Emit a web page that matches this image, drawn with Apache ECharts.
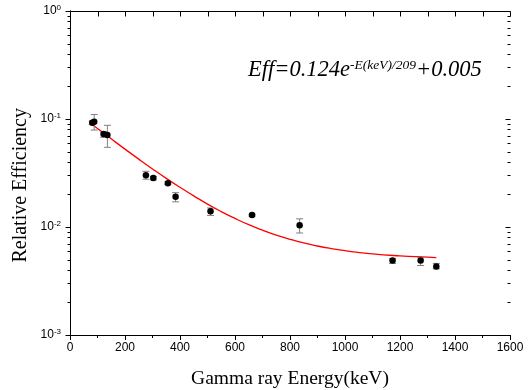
<!DOCTYPE html>
<html>
<head>
<meta charset="utf-8">
<script src="https://cdn.jsdelivr.net/npm/echarts@6/dist/echarts.min.js"></script>
<style>
html,body{margin:0;padding:0;background:#fff;}
#chart{width:531px;height:390px;}
</style>
</head>
<body>
<div id="chart"></div>
<script>
// Measured points (keV, relative efficiency) with error-bar limits
var energy = [81, 88, 122, 136, 276, 303, 356, 384, 511, 662, 835, 1173, 1275, 1332];
var efficiency = [0.0924, 0.0944, 0.0726, 0.0711, 0.0302, 0.0284, 0.0254, 0.0191, 0.0140, 0.0129, 0.0104, 0.0049, 0.0049, 0.0043];
var errLow = [0.0890, 0.0790, 0.0677, 0.0547, 0.0277, 0.0273, 0.0247, 0.0171, 0.0128, 0.0126, 0.0088, 0.0046, 0.0044, 0.0041];
var errHigh = [0.0960, 0.1100, 0.0763, 0.0874, 0.0328, 0.0294, 0.0262, 0.0208, 0.0150, 0.0131, 0.0119, 0.0051, 0.0052, 0.0046];

// Fit curve
var fitEnergy = [81, 100, 150, 200, 250, 300, 350, 400, 450, 500, 550, 600, 650, 700, 750, 800, 850, 900, 950, 1000, 1100, 1200, 1300, 1332];
var fitEff = [0.0890, 0.0818, 0.0655, 0.0526, 0.0425, 0.0345, 0.0282, 0.0233, 0.0194, 0.0163, 0.0139, 0.0120, 0.0105, 0.00935, 0.00842, 0.0077, 0.00712, 0.00667, 0.00632, 0.00604, 0.00564, 0.0054, 0.00525, 0.0052];

var xTicks = [0, 200, 400, 600, 800, 1000, 1200, 1400, 1600];
var xMinorTicks = [100, 300, 500, 700, 900, 1100, 1300, 1500];
var yTicks = [0.001, 0.01, 0.1, 1];
var yMinorTicks = [];
for (var d = 0; d < 3; d++) {
  for (var m = 2; m <= 9; m++) yMinorTicks.push(m * yTicks[d]);
}

var formulaMain = 'Eff=0.124e';
var formulaSup = '-E(keV)/209';
var formulaTail = '+0.005';

var chart = echarts.init(document.getElementById('chart'), null, {renderer: 'canvas'});

var ptData = energy.map(function (e, i) { return [e, efficiency[i]]; });
var errData = energy.map(function (e, i) { return [e, errLow[i], errHigh[i]]; });
var fitData = fitEnergy.map(function (e, i) { return [e, fitEff[i]]; });

function supLabel(v) {
  var ex = Math.round(Math.log10(v));
  return '{b|10}{s|' + ex + '}';
}

var option = {
  backgroundColor: '#fff',
  animation: false,
  grid: {left: 70, right: 21, top: 11, bottom: 55, containLabel: false, outerBoundsMode: 'none'},
  xAxis: [{
    type: 'value', min: 0, max: 1600, interval: 200, position: 'bottom',
    axisLine: {show: true, onZero: false, lineStyle: {color: '#000', width: 1}},
    axisTick: {show: true, inside: false, length: 5, lineStyle: {color: '#000'}},
    minorTick: {show: true, splitNumber: 2, length: 3, lineStyle: {color: '#000'}},
    splitLine: {show: false},
    axisLabel: {color: '#000', fontFamily: 'Liberation Sans', fontSize: 12, margin: 7,
      formatter: function (v) { return String(v); }},
    name: 'Gamma ray Energy(keV)', nameLocation: 'middle', nameGap: 34,
    nameTextStyle: {fontFamily: 'Liberation Serif', fontSize: 19.5, color: '#000'}
  }, {
    type: 'value', min: 0, max: 1600, interval: 200, position: 'top',
    axisLine: {show: true, onZero: false, lineStyle: {color: '#000', width: 1}},
    axisTick: {show: false},
    splitLine: {show: false},
    axisLabel: {show: false}
  }],
  yAxis: [{
    type: 'log', logBase: 10, min: 0.001, max: 1, position: 'left',
    axisLine: {show: true, lineStyle: {color: '#000', width: 1}},
    axisTick: {show: false},
    splitLine: {show: false},
    axisLabel: {color: '#000', margin: 9, formatter: supLabel,
      rich: {
        b: {fontFamily: 'Liberation Sans', fontSize: 12, color: '#000'},
        s: {fontFamily: 'Liberation Sans', fontSize: 8, color: '#000', verticalAlign: 'top', padding: [0, 0, 7, 0]}
      }}
  }, {
    type: 'log', logBase: 10, min: 0.001, max: 1, position: 'right',
    axisLine: {show: true, lineStyle: {color: '#000', width: 1}},
    axisTick: {show: false},
    splitLine: {show: false},
    axisLabel: {show: false}
  }],
  series: [{
    type: 'line', name: 'fit', data: fitData, showSymbol: false, symbol: 'none', smooth: true,
    lineStyle: {color: '#ff0000', width: 1.3}, z: 3
  }, {
    type: 'custom', name: 'errors', data: errData, z: 4,
    renderItem: function (params, api) {
      var x = api.value(0);
      var lo = api.coord([x, api.value(1)]);
      var hi = api.coord([x, api.value(2)]);
      var w = 3.5;
      var st = {stroke: '#808080', lineWidth: 1};
      return {type: 'group', children: [
        {type: 'line', shape: {x1: lo[0], y1: lo[1], x2: hi[0], y2: hi[1]}, style: st},
        {type: 'line', shape: {x1: lo[0] - w, y1: lo[1], x2: lo[0] + w, y2: lo[1]}, style: st},
        {type: 'line', shape: {x1: hi[0] - w, y1: hi[1], x2: hi[0] + w, y2: hi[1]}, style: st}
      ]};
    }
  }, {
    type: 'scatter', name: 'data', data: ptData, symbol: 'circle', symbolSize: 6.5,
    itemStyle: {color: '#000', opacity: 1}, z: 5
  }],
  graphic: [{
    type: 'text', left: 11, top: 108, rotation: Math.PI / 2,
    style: {text: 'Relative Efficiency', font: '20px "Liberation Serif"', fill: '#000'}
  }, {
    type: 'text', left: 248, top: 58,
    style: {
      text: '{m|' + formulaMain + '}{s|' + formulaSup + '}{m|' + formulaTail + '}',
      rich: {
        m: {fontFamily: 'Liberation Serif', fontStyle: 'italic', fontSize: 22.5, color: '#000'},
        s: {fontFamily: 'Liberation Serif', fontStyle: 'italic', fontSize: 13.5, color: '#000', verticalAlign: 'top', padding: [0, 0, 10, 0]}
      }
    }
  }]
};
chart.setOption(option);

// Frame ticks placed through the chart's own scales
function px(x, y) { return chart.convertToPixel({xAxisIndex: 0, yAxisIndex: 0}, [x, y]); }
var tickEls = [];
function seg(x1, y1, x2, y2) {
  tickEls.push({type: 'line', silent: true, z: 10,
    shape: {x1: Math.round(x1) + 0.5, y1: Math.round(y1) + 0.5, x2: Math.round(x2) + 0.5, y2: Math.round(y2) + 0.5},
    style: {stroke: '#000', lineWidth: 1}});
}
yTicks.forEach(function (v) {
  var l = px(0, v), r = px(1600, v);
  seg(l[0] - 5, l[1], l[0], l[1]);
  seg(r[0] - 5, r[1], r[0], r[1]);
});
yMinorTicks.forEach(function (v) {
  var l = px(0, v), r = px(1600, v);
  seg(l[0] - 3, l[1], l[0], l[1]);
  seg(r[0] - 3, r[1], r[0], r[1]);
});
xTicks.concat(xMinorTicks).forEach(function (v) {
  var t = px(v, 1);
  seg(t[0], t[1], t[0], t[1] + 5);
});
chart.setOption({graphic: option.graphic.concat(tickEls)});
</script>
</body>
</html>
